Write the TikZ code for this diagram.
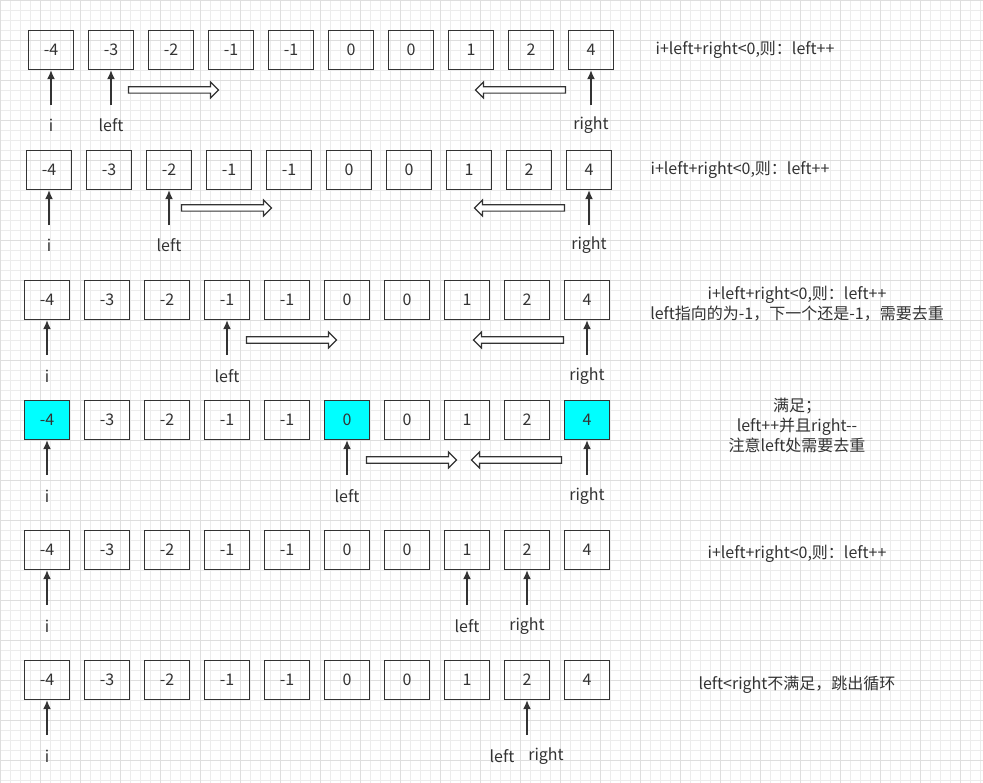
\documentclass[tikz,border=0pt]{standalone}
\usepackage{fontspec}
\setmainfont{Noto Sans CJK SC}
\usetikzlibrary{shapes.arrows,arrows.meta}
\definecolor{gridc}{RGB}{236,236,236}
\definecolor{gridd}{RGB}{222,222,222}
\definecolor{ink}{RGB}{51,51,51}
\definecolor{aqua}{RGB}{0,255,255}
\begin{document}
\begin{tikzpicture}[x=1pt,y=-1pt,
  cell/.style={draw=ink,line width=1.3pt,minimum width=45pt,minimum height=39pt,inner sep=0,font=\fontsize{16}{16}\selectfont,text=ink},
  hit/.style={cell,fill=aqua},
  lab/.style={font=\fontsize{16}{16}\selectfont,text=ink,inner sep=0},
  note/.style={font=\fontsize{16}{20}\selectfont,text=ink,align=center,inner sep=0},
  ptr/.style={draw=ink,line width=1.5pt,-{Latex[length=9pt,width=8pt]}},
  hol/.style={single arrow,draw=ink,line width=1.2pt,fill=white,minimum height=90pt,minimum width=16pt,single arrow head extend=4pt,single arrow head indent=0pt,inner sep=2pt}]
\useasboundingbox (0,0) rectangle (983,783);
\fill[white] (0,0) rectangle (983,783);
\foreach \g in {0,10,...,980}{\draw[gridc,line width=0.6pt] (\g,0) -- (\g,783);}
\foreach \g in {0,10,...,780}{\draw[gridc,line width=0.6pt] (0,\g) -- (983,\g);}
\foreach \g in {0,40,...,980}{\draw[gridd,line width=0.8pt] (\g,0) -- (\g,783);}
\foreach \g in {0,40,...,780}{\draw[gridd,line width=0.8pt] (0,\g) -- (983,\g);}
\def\vals{{"-4","-3","-2","-1","-1","0","0","1","2","4"}}
\foreach \r/\xo/\yc in {a/51/50,b/49/170,c/47/300,d/47/420,e/47/550,f/47/680}{
  \foreach \k in {0,...,9}{
    \pgfmathsetmacro\xx{\xo+60*\k}
    \pgfmathparse{\vals[\k]}\let\v\pgfmathresult
    \node[cell] (\r\k) at (\xx,\yc) {\v};
  }
}
\foreach \k in {0,5,9}{\node[hit] at (d\k) {\pgfmathparse{\vals[\k]}\pgfmathresult};}
\foreach \n/\c/\t/\y/\dx in {a1/a0/i/125/0,a2/a1/left/125/0,a3/a9/right/125/0,
  b1/b0/i/245/0,b2/b2/left/245/0,b3/b9/right/245/0,
  c1/c0/i/376/0,c2/c3/left/376/0,c3/c9/right/376/0,
  d1/d0/i/496/0,d2/d5/left/496/0,d3/d9/right/496/0,
  e1/e0/i/626/0,e2/e7/left/626/0,e3/e8/right/626/0,
  f1/f0/i/756/0,f3/f8/right/756/19}{
  \coordinate (t\n) at ([yshift=-35]\c.south);
  \draw[ptr] (t\n) -- (\c.south);
  \node[lab] (l\n) at ([xshift=\dx]\c.south |- 0,\y) {\t};
}
\node[lab] (lf2) at (502,756) {left};
\node[hol] (ha1) at (172,90) {};
\node[hol,shape border rotate=180] (ha2) at (522,90) {};
\node[hol] (hb1) at (225,208) {};
\node[hol,shape border rotate=180] (hb2) at (521,208) {};
\node[hol] (hc1) at (290,340) {};
\node[hol,shape border rotate=180] (hc2) at (520,340) {};
\node[hol] (hd1) at (410,460) {};
\node[hol,shape border rotate=180] (hd2) at (518,460) {};
\node[note] (n1) at (745,50) {i+left+right<0,则：left++};
\node[note] (n2) at (740,170) {i+left+right<0,则：left++};
\node[note] (n3) at (797,304) {i+left+right<0,则：left++\\left指向的为-1，下一个还是-1，需要去重};
\node[note] (n4) at (797,425) {满足；\\left++并且right{-}{-}\\注意left处需要去重};
\node[note] (n5) at (797,554) {i+left+right<0,则：left++};
\node[note] (n6) at (797,685) {left<right不满足，跳出循环};
\end{tikzpicture}
\end{document}
